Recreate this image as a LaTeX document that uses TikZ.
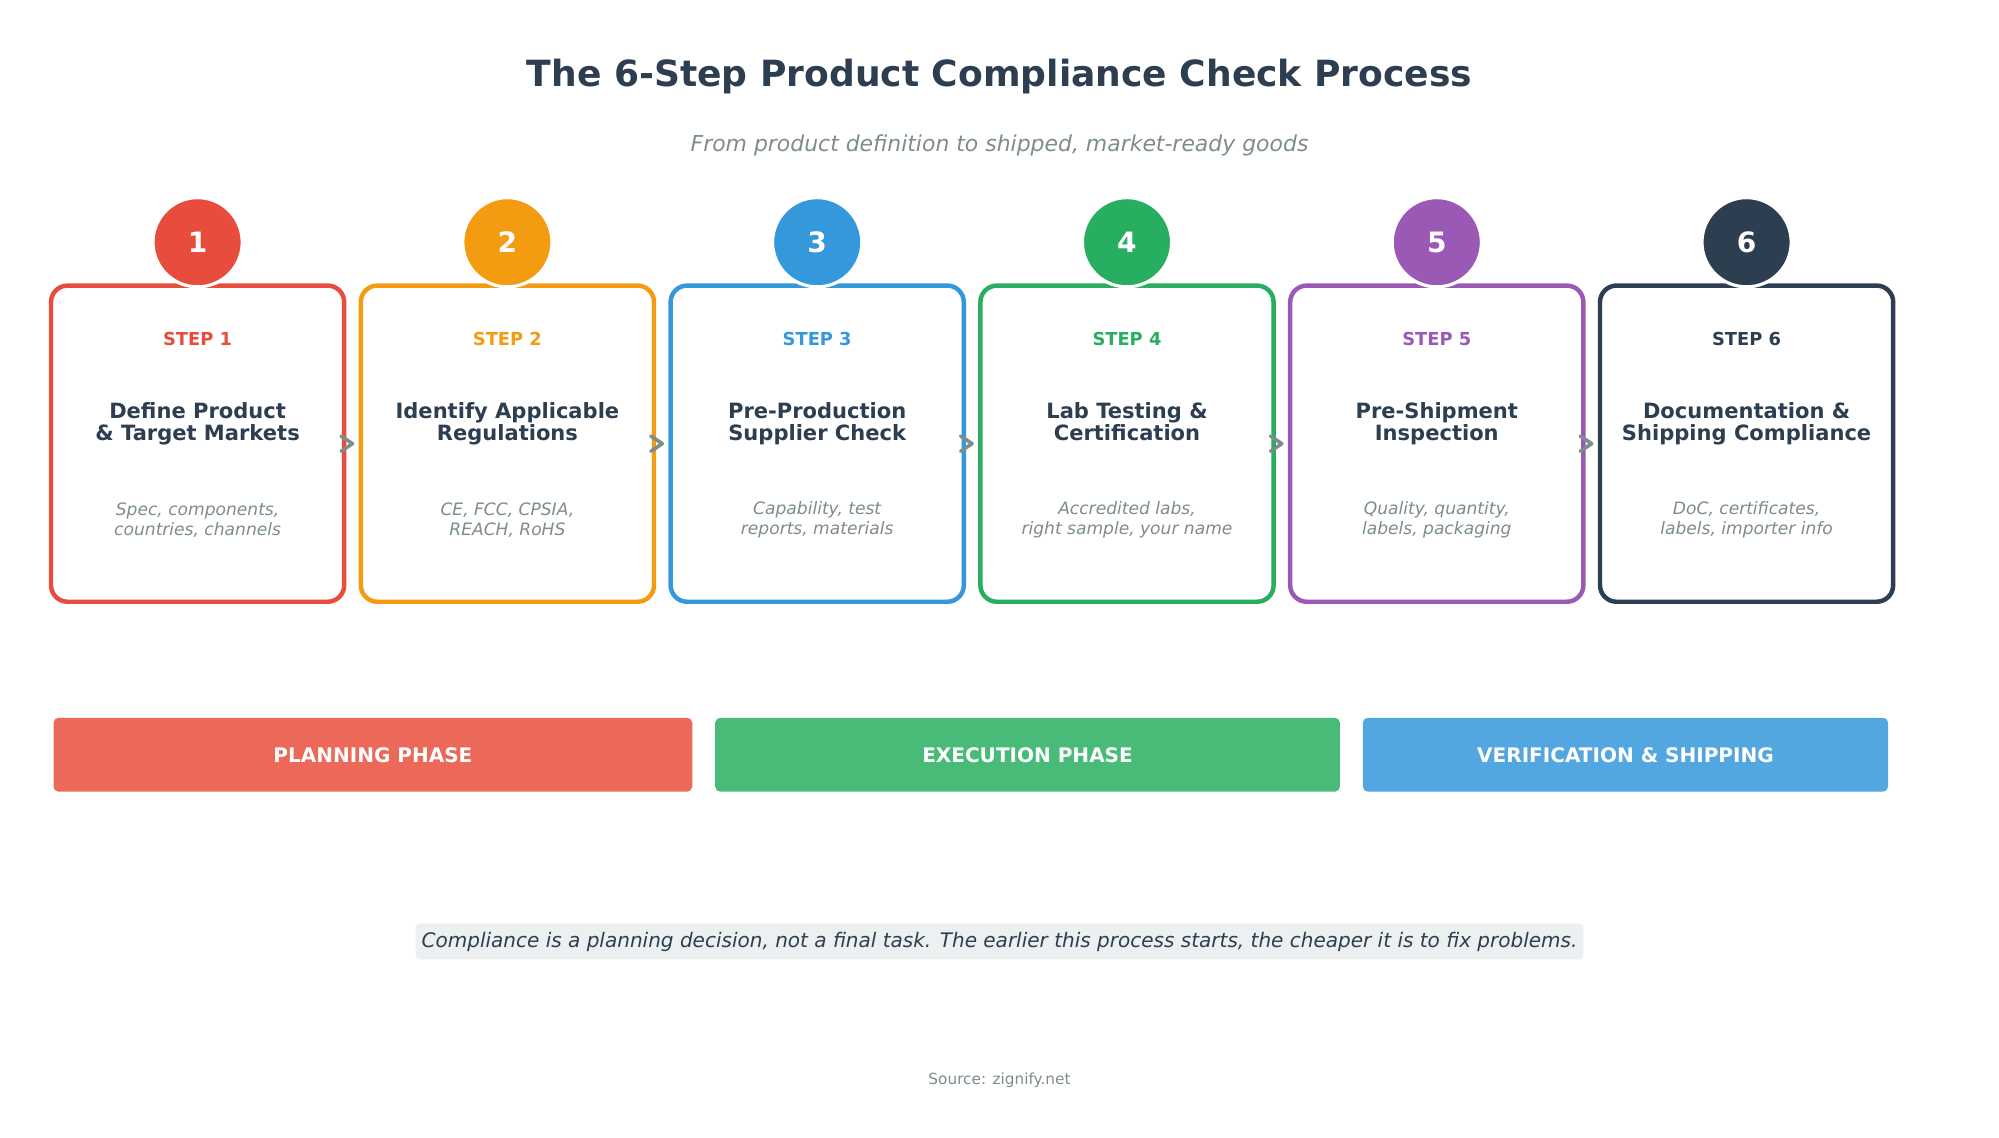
\documentclass[tikz,border=0pt]{standalone}
\usepackage{fontspec}
\usetikzlibrary{calc}
\setmainfont{DejaVu Sans}
\definecolor{cred}{HTML}{E74C3C}
\definecolor{corange}{HTML}{F39C12}
\definecolor{cblue}{HTML}{3498DB}
\definecolor{cgreen}{HTML}{27AE60}
\definecolor{cpurple}{HTML}{9B59B6}
\definecolor{cdark}{HTML}{2C3E50}
\definecolor{cgray}{HTML}{7F8C8D}
\definecolor{pred}{HTML}{EC6959}
\definecolor{pgreen}{HTML}{48BB78}
\definecolor{pblue}{HTML}{52A7E0}
\definecolor{notebg}{HTML}{ECF0F1}
\begin{document}
\begin{tikzpicture}[x=1pt,y=-1pt,
  card/.style={draw=#1,line width=3.5pt,rounded corners=13pt,minimum width=230pt,minimum height=248pt,fill=white},
  badge/.style={circle,fill=#1,draw=white,line width=2.5pt,minimum size=70pt,text=white,font=\bfseries\fontsize{22}{26}\selectfont},
  steplbl/.style={text=#1,font=\bfseries\fontsize{14}{16}\selectfont},
  ttl/.style={text=cdark,font=\bfseries\fontsize{16.5}{17.5}\selectfont,align=center,anchor=north},
  desc/.style={text=cgray,font=\itshape\fontsize{13.4}{15.5}\selectfont,align=center},
  phase/.style={fill=#1,rounded corners=4pt,minimum height=58pt,text=white,font=\bfseries\fontsize{15.7}{18}\selectfont},
  chev/.style={draw=cgray,line width=2.8pt,line cap=round,line join=round}]
\useasboundingbox (0,0) rectangle (1568,892);
\node (title) at (784,60) {\bfseries\color{cdark}\fontsize{28.3}{32}\selectfont The 6-Step Product Compliance Check Process};
\node (sub) at (784,114) {\itshape\color{cgray}\fontsize{17.2}{20}\selectfont From product definition to shipped, market-ready goods};
\foreach \i/\c/\t/\d [count=\n] in {
 155/cred/{Define Product\\\& Target Markets}/{Spec, components,\\countries, channels},
 398/corange/{Identify Applicable\\Regulations}/{CE, FCC, CPSIA,\\REACH, RoHS},
 641/cblue/{Pre-Production\\Supplier Check}/{Capability, test\\reports, materials},
 884/cgreen/{Lab Testing \&\\Certification}/{Accredited labs,\\right sample, your name},
 1127/cpurple/{Pre-Shipment\\Inspection}/{Quality, quantity,\\labels, packaging},
 1370/cdark/{Documentation \&\\Shipping Compliance}/{DoC, certificates,\\labels, importer info}}{
  \node[card=\c] (box\n) at (\i,348) {};
  \node[badge=\c] (b\n) at (\i,190) {\n};
  \node[steplbl=\c] (s\n) at (\i,266) {STEP \n};
  \node[ttl] (t\n) at (\i,312) {\t};
  \node[desc] (d\n) at (\i,408) {\d};
}
\foreach \a/\b in {1/2,2/3,3/4,4/5,5/6}{
  \coordinate (m\a) at ($(box\a.east)!0.5!(box\b.west)$);
  \draw[chev] ($(m\a)+(-9,-6)$) -- ($(m\a)+(0,0)$) -- ($(m\a)+(-9,6)$);
}
\node[phase=pred,minimum width=501pt] (p1) at (292.5,592) {PLANNING PHASE};
\node[phase=pgreen,minimum width=490pt] (p2) at (806,592) {EXECUTION PHASE};
\node[phase=pblue,minimum width=412pt] (p3) at (1275,592) {VERIFICATION \& SHIPPING};
\node[fill=notebg,rounded corners=3pt,minimum width=916pt,minimum height=28pt,text=cdark,font=\itshape\fontsize{15.7}{18}\selectfont] (note) at (784,738.5) {Compliance is a planning decision, not a final task. The earlier this process starts, the cheaper it is to fix problems.};
\node[text=cgray,font=\fontsize{12}{14}\selectfont] (src) at (784,847) {Source: zignify.net};
\end{tikzpicture}
\end{document}
